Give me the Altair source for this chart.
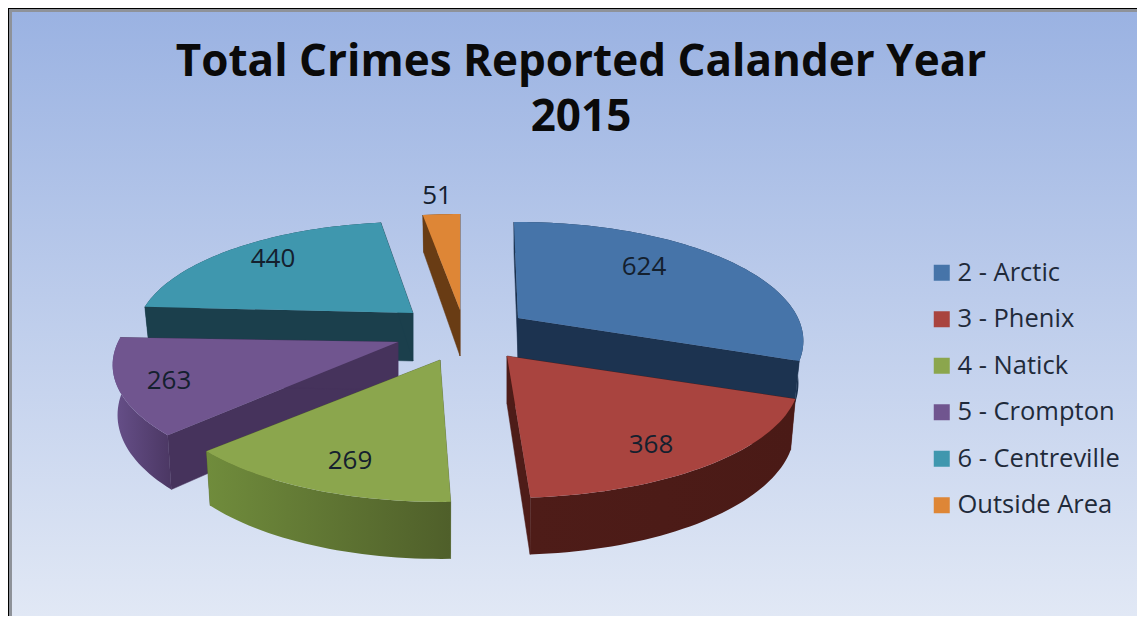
import math
import altair as alt

# ---- chart values ----
TITLE = ["Total Crimes Reported Calander Year", "2015"]
AREAS = ["2 - Arctic", "3 - Phenix", "4 - Natick", "5 - Crompton", "6 - Centreville", "Outside Area"]
CRIMES = [624, 368, 269, 263, 440, 51]

# ---- styles ----
TOP = ["#4674a9", "#a9443f", "#8ba64d", "#70558f", "#3f97ae", "#de8636"]
WALL = ["#1c3350", "#4e1c18", "#55672c", "#46335c", "#1b3f4c", "#693c14"]
RIM_L = ["#1c3350", "#4e1c18", "#708c3c", "#67508a", "#1b3f4c", "#693c14"]
RIM_R = ["#1c3350", "#4a1a16", "#4f5f2a", "#4b3763", "#1b3f4c", "#693c14"]

# ---- 3-D pie layout: apex of each exploded slice, in page pixels ----
APEX = [(518, 318), (507, 356), (440, 360), (398, 342), (413, 313), (460, 310)]
LABEL_POS = [(644, 267), (651, 445), (350, 461), (169, 381), (273, 259), (437, 196)]
NUDGE = [0, 0, 2, 1, 2, 1]
SCALE_X = [1, 1.025, 1, 1, 0.97, 1]
SCALE_Y = [1, 1, 1, 1, 0.95, 1]
DEPTH = [40, 48, 48, 48, 48, 46]
RX, RY, PERSP = 280.0, 114.5, 0.193
ROTATION = -1.0
DRAW_ORDER = [5, 4, 0, 3, 1, 2]
W, H = 1129, 608
OFF = 8


def rim(i, deg):
    t = math.radians(deg)
    u, v = math.sin(t), math.cos(t)
    w = 1 + PERSP * v
    ax, ay = APEX[i]
    return ax + SCALE_X[i] * RX * u / w, ay - SCALE_Y[i] * RY * v / w, u, v


def drop(i, x, y, u, v):
    return x - 5 * u, y + DEPTH[i] - 9 * v


def feature(points, name=None):
    ring = [[round(x, 2), round(y, 2)] for x, y in points]
    ring.append(ring[0])
    return {
        "type": "Feature",
        "geometry": {"type": "Polygon", "coordinates": [ring]},
        "properties": {"name": name or ""},
    }


PROJ = dict(type="identity", scale=1, translate=[-OFF, -OFF])
total = sum(CRIMES)
starts = [ROTATION]
for c in CRIMES:
    starts.append(starts[-1] + 360.0 * c / total)

color_scale = alt.Scale(domain=AREAS, range=TOP)
layers = []

# background and frame
layers.append(
    alt.Chart(alt.Data(values=[{}])).mark_rect(
        fill=alt.Gradient(
            gradient="linear", x1=0, x2=0, y1=0, y2=1,
            stops=[alt.GradientStop(offset=0, color="#9ab2e2"),
                   alt.GradientStop(offset=1, color="#e1e8f5")],
        )
    ).encode(x=alt.value(0), x2=alt.value(W), y=alt.value(0), y2=alt.value(H))
)
for color, a, b in [("#8e9299", 1, 4), ("#000000", 0, 1)]:
    frame = alt.Chart(alt.Data(values=[{}])).mark_rect(color=color)
    layers.append(frame.encode(x=alt.value(a), x2=alt.value(b), y=alt.value(0), y2=alt.value(H)))
    layers.append(frame.encode(x=alt.value(0), x2=alt.value(W), y=alt.value(a), y2=alt.value(b)))

for i in DRAW_ORDER:
    s, e = starts[i] + NUDGE[i], starts[i + 1] + NUDGE[i]
    n = max(6, int((e - s) / 1.5))
    arc = [rim(i, s + (e - s) * k / n) for k in range(n + 1)]
    ax, ay = APEX[i]
    top_pts = [(ax, ay)] + [(p[0], p[1]) for p in arc]
    apex_bottom = (ax, ay + DEPTH[i])
    first, last = arc[0], arc[-1]
    first_b = drop(i, *first)
    last_b = drop(i, *last)
    rim_pts = [(p[0], p[1]) for p in arc] + [drop(i, *p) for p in reversed(arc)]
    walls = [
        [(ax, ay), (first[0], first[1]), first_b, apex_bottom],
        [(ax, ay), (last[0], last[1]), last_b, apex_bottom],
    ]
    for wall in walls:
        layers.append(
            alt.Chart(alt.Data(values=[feature(wall)]))
            .mark_geoshape(fill=WALL[i], stroke=WALL[i], strokeWidth=0.5)
            .project(**PROJ)
        )
    layers.append(
        alt.Chart(alt.Data(values=[feature(rim_pts)]))
        .mark_geoshape(
            fill=alt.Gradient(
                gradient="linear", x1=0, x2=1, y1=0, y2=0,
                stops=[alt.GradientStop(offset=0, color=RIM_L[i]),
                       alt.GradientStop(offset=1, color=RIM_R[i])],
            ),
            strokeWidth=0,
        )
        .project(**PROJ)
    )
    layers.append(
        alt.Chart(alt.Data(values=[feature(top_pts, AREAS[i])]))
        .mark_geoshape(strokeWidth=0)
        .encode(
            color=alt.Color(
                "properties.name:N",
                scale=color_scale,
                legend=alt.Legend(
                    title=None, orient="none", legendX=921, legendY=252,
                    symbolType="square", symbolSize=256, symbolStrokeWidth=0,
                    labelFont="Open Sans", labelFontSize=25.5, labelColor="#1f2a3a",
                    labelOffset=3, labelLimit=220, rowPadding=19.5,
                    symbolOffset=0,
                ),
            )
        )
        .project(**PROJ)
    )

# value labels
label_rows = [
    {"px": x - OFF, "py": y - OFF, "value": v}
    for (x, y), v in zip(LABEL_POS, CRIMES)
]
layers.append(
    alt.Chart(alt.Data(values=label_rows))
    .mark_text(font="Open Sans", fontSize=26, color="#14202e", baseline="middle", align="center")
    .encode(x=alt.X("px:Q", scale=None, axis=None), y=alt.Y("py:Q", scale=None, axis=None), text="value:Q")
)

chart = (
    alt.layer(*layers)
    .resolve_scale(color="shared")
    .properties(
        width=W,
        height=H,
        padding=0,
        autosize=alt.AutoSizeParams(type="none"),
        title=alt.TitleParams(
            text=TITLE, anchor="middle", frame="group", orient="top",
            font="Open Sans", fontWeight="bold", fontSize=44, lineHeight=55,
            color="#0a0a0a", baseline="alphabetic", dy=167, dx=8.5, offset=0,
        ),
    )
    .configure_view(stroke=None)
)

chart.save("out.html", embed_options={"renderer": "svg", "actions": False})
